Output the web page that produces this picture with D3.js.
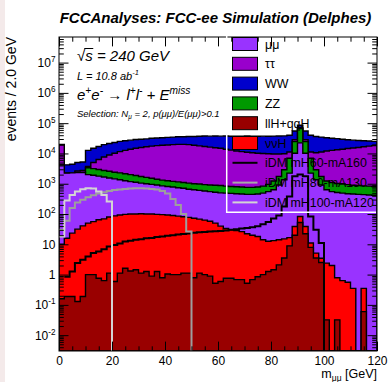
<!DOCTYPE html>
<html>
<head>
<meta charset="utf-8">
<script src="https://cdn.jsdelivr.net/npm/d3@7"></script>
<style>
  body { margin: 0; background: #fff; }
  svg { display: block; font-family: "Liberation Sans", Arial, Helvetica, sans-serif; }
</style>
</head>
<body>
<div id="chart"></div>
<script>
const width = 389;
const height = 382;
const margin = { left: 59, right: 12, top: 37, bottom: 31 };

const xDomain = [0, 120];
const binWidth = 2;
const yDomain = [0.003, 7e7];

const xTickValues = [0, 20, 40, 60, 80, 100, 120];
const xTickLabels = ["0", "20", "40", "60", "80", "100", "120"];
const yTickValues = [1e-2, 1e-1, 1, 10, 1e2, 1e3, 1e4, 1e5, 1e6, 1e7];
const yTickLabels = [
  ["10", "-2"], ["10", "-1"], ["1", ""], ["10", ""], ["10", "2"],
  ["10", "3"], ["10", "4"], ["10", "5"], ["10", "6"], ["10", "7"],
];

// cumulative stack edges (events / 2 GeV), one value per bin, 0-120 GeV
const wwTop = [
  20000, 4200, 4400, 5000, 5200, 12600, 14800, 17000, 19500, 21400,
  22900, 25100, 26300, 27500, 28800, 29500, 30200, 31600, 32400, 33100,
  33900, 34700, 35500, 35500, 36300, 36300, 37000, 37500, 37200, 37800,
  37300, 37600, 37100, 37400, 37000, 37500, 37200, 37000, 37300, 37100,
  37400, 37600, 38000, 39800, 55000, 85100, 55000, 39800, 36300, 34700,
  33100, 31600, 30900, 29500, 28200, 27500, 26900, 26300, 25700, 25100,
];
const tautauTop = [
  19000, 2240, 2290, 2630, 2750, 3700, 5000, 6300, 7600, 8900,
  10200, 11500, 12600, 13800, 14800, 15800, 16600, 17400, 18200, 18600,
  19100, 19500, 20000, 20000, 19500, 18600, 17800, 17000, 16200, 15500,
  14800, 13800, 12900, 12000, 11500, 11000, 10500, 10200, 10000, 9800,
  9550, 9550, 9800, 11200, 28200, 70800, 28200, 11200, 10500, 11200,
  12000, 12600, 13200, 13800, 14500, 15100, 15800, 16600, 17400, 18200,
];
const zzTop = [
  4170, 2240, 2290, 2340, 2340, 3390, 3160, 2950, 2750, 2570,
  2400, 2290, 2140, 2000, 1860, 1740, 1620, 1510, 1410, 1320,
  1260, 1200, 1150, 1100, 1050, 1000, 977, 933, 912, 891,
  871, 832, 813, 794, 776, 759, 759, 776, 832, 955,
  1230, 1740, 2880, 6920, 24500, 66100, 24500, 6920, 2880, 1740,
  1230, 1100, 1020, 977, 933, 891, 871, 851, 832, 813,
];
const mumuTop = [
  4170, 2240, 2290, 2340, 2340, 2000, 1910, 1780, 1660, 1550,
  1450, 1350, 1260, 1170, 1120, 1050, 1000, 955, 912, 851,
  813, 776, 741, 708, 661, 631, 603, 575, 550, 525,
  501, 490, 479, 468, 457, 447, 447, 457, 490, 550,
  631, 912, 1350, 2240, 10200, 22400, 10200, 2240, 1350, 912,
  631, 550, 513, 490, 468, 457, 447, 437, 427, 417,
];
const nnhTop = [
  10, 15.8, 23.4, 31.6, 40.7, 50.1, 56.2, 64.6, 69.2, 79.4,
  87.1, 93.3, 97.7, 100, 100, 102, 100, 100, 97.7, 95.5,
  93.3, 89.1, 85.1, 81.3, 77.6, 72.4, 67.6, 63.1, 57.5, 50.1,
  39.8, 33.1, 30.2, 28.2, 26.3, 22.4, 20.0, 18.2, 14.1, 12.6,
  13.2, 14.1, 15.1, 16.6, 38.9, 83.2, 38.9, 11.0, 5.13, 3.47,
  2.40, 2.00, 0.79, 0.63, 0.56, 0.35, 0, 0.35, 0, 0,
];
const llhQqhTop = [
  0.16, 0.19, 0.19, 0.13, 0.19, 1.0, 1.0, 0.76, 0.63, 1.12,
  0.59, 1.12, 1.62, 1.32, 1.45, 1.12, 1.26, 0.89, 1.26, 0.79,
  1.05, 1.0, 1.0, 1.12, 1.12, 0.79, 1.12, 1.0, 0.89, 0.52,
  0.59, 0.76, 0.76, 0.68, 0.68, 0.52, 0.68, 0.85, 1.0, 1.26,
  1.45, 2.09, 3.55, 8.91, 20.0, 52.5, 22.4, 7.94, 3.55, 2.51,
  0.032, 0, 0.032, 0, 0, 0, 0, 0.06, 0, 0,
];

// signal samples (not stacked)
const idmH60A160 = [
  0, 0.85, 1.26, 2.40, 3.09, 3.98, 5.13, 5.75, 6.92, 8.51,
  9.55, 10.7, 12.3, 13.2, 14.1, 14.8, 15.8, 16.2, 17.4, 18.2,
  19.1, 20.0, 20.9, 21.9, 22.9, 24.0, 25.1, 25.7, 26.3, 26.9,
  27.5, 28.8, 30.2, 31.6, 33.1, 34.7, 36.3, 39.8, 45.7, 55.0,
  70.8, 89.1, 178, 380, 1780, 2000, 1780, 83.2, 30.2, 11.0,
  0, 0, 0, 0, 0, 0, 0, 0, 0, 0,
];
const idmH80A130 = [
  30, 60, 158, 240, 295, 355, 417, 479, 525, 575,
  617, 646, 676, 692, 708, 708, 692, 676, 646, 575,
  479, 316, 200, 100, 26.3,
];
const idmH100A120 = [18, 282, 427, 550, 661, 708, 692, 550, 427, 257];

const stackLayers = [
  { key: "WW", values: wwTop, color: "#0000cc" },
  { key: "tautau", values: tautauTop, color: "#9900cc" },
  { key: "ZZ", values: zzTop, color: "#009900" },
  { key: "mumu", values: mumuTop, color: "#9933ff" },
  { key: "nnH", values: nnhTop, color: "#ff0000" },
  { key: "llH", values: llhQqhTop, color: "#990000" },
];
const signals = [
  { values: idmH60A160, color: "#000000" },
  { values: idmH80A130, color: "#9e9e9e" },
  { values: idmH100A120, color: "#d4d4d4" },
];

const legendLabels = ["μμ", "ττ", "WW", "ZZ", "llH+qqH", "ννH",
  "iDM mH60-mA160", "iDM mH80-mA130", "iDM mH100-mA120"];
const legendColors = ["#9933ff", "#9900cc", "#0000cc", "#009900", "#990000", "#ff0000",
  "#000000", "#a8a8a8", "#d4d4d4"];

const svg = d3
  .select("#chart")
  .append("svg")
  .attr("width", width)
  .attr("height", height);

svg.append("rect").attr("width", width).attr("height", height).attr("fill", "#fff");
svg.append("rect").attr("width", 5).attr("height", height).attr("fill", "#f4eaea");

const xScale = d3
  .scaleLinear()
  .domain(xDomain)
  .range([margin.left, width - margin.right]);
const yScale = d3
  .scaleLog()
  .domain(yDomain)
  .range([height - margin.bottom, margin.top]);
const yBottom = height - margin.bottom;
const yPos = (v) => (v > yDomain[0] ? yScale(v) : yBottom);

svg
  .append("defs")
  .append("clipPath")
  .attr("id", "clip")
  .append("rect")
  .attr("x", margin.left)
  .attr("y", margin.top)
  .attr("width", width - margin.left - margin.right)
  .attr("height", height - margin.top - margin.bottom);

const plot = svg.append("g").attr("clip-path", "url(#clip)");

// stacked histograms: every cumulative edge is filled down to the axis, top one first
const binPoints = (values) =>
  values
    .map((v, i) => ({ x: i * binWidth, v }))
    .concat([{ x: values.length * binWidth, v: values[values.length - 1] }]);

const area = d3
  .area()
  .curve(d3.curveStepAfter)
  .x((d) => xScale(d.x))
  .y0(yBottom)
  .y1((d) => yPos(d.v));

plot
  .selectAll(".stack-layer")
  .data(stackLayers)
  .join("path")
  .attr("class", "stack-layer")
  .attr("fill", (d) => d.color)
  .attr("stroke", "#000")
  .attr("stroke-width", 1.4)
  .attr("stroke-linejoin", "miter")
  .attr("d", (d) => area(binPoints(d.values)));

// signal outlines
const signalPoints = (values) => {
  const first = values.findIndex((v) => v > 0);
  let last = values.length - 1;
  while (!(values[last] > 0)) last--;
  const pts = [];
  for (let i = first; i <= last; i++) pts.push({ x: i * binWidth, v: values[i] });
  pts.push({ x: (last + 1) * binWidth, v: 0 });
  return pts;
};

const line = d3
  .line()
  .curve(d3.curveStepAfter)
  .x((d) => xScale(d.x))
  .y((d) => yPos(d.v));

plot
  .selectAll(".signal")
  .data(signals)
  .join("path")
  .attr("class", "signal")
  .attr("fill", "none")
  .attr("stroke", (d) => d.color)
  .attr("stroke-width", 2)
  .attr("d", (d) => line(signalPoints(d.values)));

// ROOT style ticks, drawn inwards on all four sides
const yMinor = [];
for (let e = -3; e <= 7; e++) {
  for (let k = 2; k <= 9; k++) {
    const v = k * Math.pow(10, e);
    if (v > yDomain[0] && v < yDomain[1]) yMinor.push(v);
  }
}
const xMinor = d3.range(0, 121, 5).filter((v) => v % 20 !== 0);

const tickGroup = (axis, tx, ty) =>
  svg
    .append("g")
    .attr("transform", `translate(${tx}, ${ty})`)
    .call(axis)
    .call((g) => {
      g.select(".domain").remove();
      g.selectAll("line").attr("stroke", "#000").attr("stroke-width", 1);
    });

const xRight = width - margin.right;
tickGroup(d3.axisLeft(yScale).tickValues(yTickValues).tickSize(-9.5).tickFormat(""), margin.left, 0);
tickGroup(d3.axisLeft(yScale).tickValues(yMinor).tickSize(-4.8).tickFormat(""), margin.left, 0);
tickGroup(d3.axisRight(yScale).tickValues(yTickValues).tickSize(-9.5).tickFormat(""), xRight, 0);
tickGroup(d3.axisRight(yScale).tickValues(yMinor).tickSize(-4.8).tickFormat(""), xRight, 0);
tickGroup(d3.axisBottom(xScale).tickValues(xTickValues).tickSize(-9.4).tickFormat(""), 0, yBottom);
tickGroup(d3.axisBottom(xScale).tickValues(xMinor).tickSize(-4.7).tickFormat(""), 0, yBottom);
tickGroup(d3.axisTop(xScale).tickValues(xTickValues).tickSize(-9.4).tickFormat(""), 0, margin.top);
tickGroup(d3.axisTop(xScale).tickValues(xMinor).tickSize(-4.7).tickFormat(""), 0, margin.top);

// x tick labels
svg
  .append("g")
  .attr("transform", `translate(0, ${yBottom})`)
  .call(
    d3
      .axisBottom(xScale)
      .tickValues(xTickValues)
      .tickSize(0)
      .tickPadding(5.5)
      .tickFormat((d, i) => xTickLabels[i])
  )
  .call((g) => {
    g.select(".domain").remove();
    g.selectAll("text")
      .attr("font-size", 12)
      .attr("font-family", "Liberation Sans, Arial, sans-serif")
      .attr("fill", "#000");
  });

// text with super/subscripts
const richText = (parent, x, y, size, parts) => {
  const t = parent
    .append("text")
    .attr("x", x)
    .attr("y", y)
    .attr("font-size", size)
    .attr("fill", "#000");
  let shift = 0;
  parts.forEach(([str, kind]) => {
    const target = kind === "sup" ? -0.42 * size : kind === "sub" ? 0.25 * size : 0;
    t.append("tspan")
      .attr("dy", target - shift)
      .attr("font-size", kind ? size * 0.68 : size)
      .text(str);
    shift = target;
  });
  return t;
};

// y tick labels
yTickValues.forEach((v, i) => {
  const [base, exp] = yTickLabels[i];
  const parts = exp ? [[base], [exp, "sup"]] : [[base]];
  richText(svg, 55.5, yScale(v) + 4.4, 12, parts).attr("text-anchor", "end");
});

// frame
svg
  .append("rect")
  .attr("x", margin.left)
  .attr("y", margin.top)
  .attr("width", width - margin.left - margin.right)
  .attr("height", height - margin.top - margin.bottom)
  .attr("fill", "none")
  .attr("stroke", "#000")
  .attr("stroke-width", 1);

// titles
svg
  .append("text")
  .attr("x", 215.5)
  .attr("y", 23)
  .attr("text-anchor", "middle")
  .attr("font-size", 15)
  .attr("font-weight", "bold")
  .attr("font-style", "italic")
  .text("FCCAnalyses: FCC-ee Simulation (Delphes)");

svg
  .append("text")
  .attr("transform", `translate(16, ${margin.top}) rotate(-90)`)
  .attr("text-anchor", "end")
  .attr("font-size", 14)
  .text("events / 2.0 GeV");

richText(svg, xRight, 378, 12.5, [["m"], ["μμ", "sub"], [" [GeV]"]]).attr("text-anchor", "end");

// annotations
const notes = svg.append("g").attr("font-style", "italic");
const sqrtText = richText(notes, 77, 61, 15, [["√s = 240 GeV"]]);
const node = sqrtText.node();
const rootW = node.getSubStringLength(0, 1);
const sW = node.getSubStringLength(1, 1);
notes
  .append("line")
  .attr("x1", 77 + rootW - 1)
  .attr("x2", 77 + rootW + sW + 0.5)
  .attr("y1", 48.5)
  .attr("y2", 48.5)
  .attr("stroke", "#000")
  .attr("stroke-width", 1);
richText(notes, 77, 79.5, 11, [["L = 10.8 ab"], ["-1", "sup"]]);
richText(notes, 77, 100, 15, [
  ["e"], ["+", "sup"], ["e"], ["-", "sup"], [" → l"], ["+", "sup"],
  ["l"], ["-", "sup"], [" + E"], ["miss", "sup"],
]);
richText(notes, 77, 117, 9.5, [
  ["Selection: N"], ["μ", "sub"], [" = 2, p(μμ)/E(μμ)>0.1"],
]);

// legend
const legend = svg.append("g");
legend
  .append("path")
  .attr("d", "M226.7,30V212.3H376")
  .attr("fill", "none")
  .attr("stroke", "#fff")
  .attr("stroke-width", 1.5);

const rowY = (i) => 44 + 19.8 * i;
legendLabels.forEach((label, i) => {
  const cy = rowY(i);
  if (i < 6) {
    legend
      .append("rect")
      .attr("x", 232.5)
      .attr("y", cy - 6.5)
      .attr("width", 25)
      .attr("height", 13)
      .attr("fill", legendColors[i])
      .attr("stroke", "#000")
      .attr("stroke-width", 1);
  } else {
    legend
      .append("line")
      .attr("x1", 232.5)
      .attr("x2", 257.5)
      .attr("y1", cy)
      .attr("y2", cy)
      .attr("stroke", legendColors[i])
      .attr("stroke-width", 2);
  }
  legend
    .append("text")
    .attr("x", 265)
    .attr("y", cy + 4.5)
    .attr("font-size", 12.4)
    .text(label);
});
</script>
</body>
</html>
